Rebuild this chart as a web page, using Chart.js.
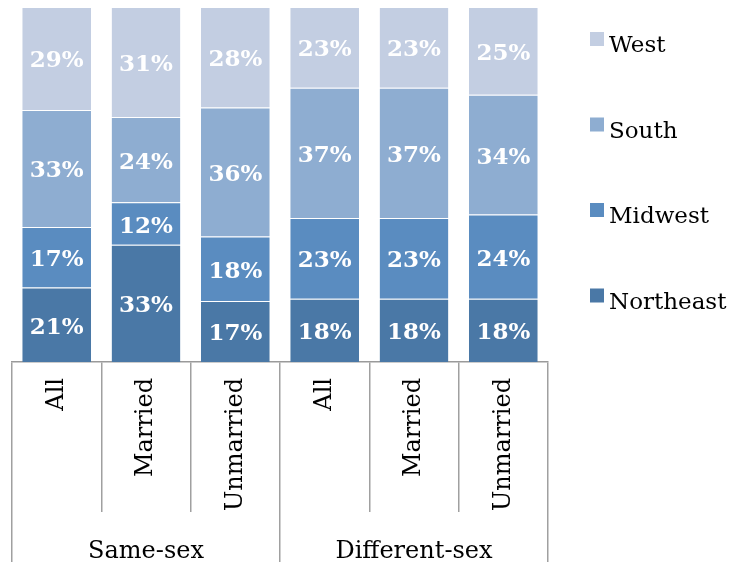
<!DOCTYPE html>
<html>
<head>
<meta charset="utf-8">
<script src="https://cdn.jsdelivr.net/npm/chart.js@4"></script>
<style>
  html, body { margin: 0; padding: 0; background: #fff; }
  #wrap { position: relative; width: 743px; height: 562px; }
</style>
</head>
<body>
<div id="wrap"><canvas id="bar" width="743" height="562"></canvas></div>
<script>
const categories = ["All", "Married", "Unmarried", "All", "Married", "Unmarried"];
const groups = ["Same-sex", "Different-sex"];
const regions = ["Northeast", "Midwest", "South", "West"];

const northeast = [21, 33, 17, 18, 18, 18];
const midwest   = [17, 12, 18, 23, 23, 24];
const south     = [33, 24, 36, 37, 37, 34];
const west      = [29, 31, 28, 23, 23, 25];

const colors = ["#4a78a6", "#5a8cc0", "#8eadd1", "#c3cee2"];

const series = [northeast, midwest, south, west];
// each column is stacked to 100%
const totals = categories.map((c, i) => series.reduce((s, arr) => s + arr[i], 0));

const serif = "'DejaVu Serif', Georgia, serif";

const valueLabels = {
    id: "valueLabels",
    afterDatasetsDraw(chart) {
        const ctx = chart.ctx;
        ctx.save();
        ctx.fillStyle = "#fff";
        ctx.font = "bold 23px " + serif;
        ctx.textAlign = "center";
        ctx.textBaseline = "middle";
        chart.data.datasets.forEach((ds, d) => {
            chart.getDatasetMeta(d).data.forEach((bar, i) => {
                ctx.fillText(series[d][i] + "%", bar.x, (bar.y + bar.base) / 2 + 3);
            });
        });
        ctx.restore();
    }
};

const sideLegend = {
    id: "sideLegend",
    afterDraw(chart) {
        const ctx = chart.ctx;
        ctx.save();
        ctx.font = "23px " + serif;
        ctx.textBaseline = "alphabetic";
        ctx.textAlign = "left";
        const n = chart.data.datasets.length;
        for (let k = 0; k < n; k++) {
            const ds = chart.data.datasets[n - 1 - k];
            const top = 32 + k * 85.5;
            ctx.fillStyle = ds.backgroundColor;
            ctx.fillRect(590, top, 14, 14);
            ctx.fillStyle = "#000";
            ctx.fillText(ds.label, 609, top + 20);
        }
        ctx.restore();
    }
};

let ctx = document.getElementById("bar").getContext("2d");
new Chart(ctx, {
    type: "bar",
    data: {
        labels: categories,
        datasets: regions.map((name, d) => ({
            label: name,
            data: series[d].map((v, i) => v / totals[i] * 100),
            backgroundColor: colors[d],
            borderColor: "rgba(255,255,255,0.3)",
            borderWidth: { top: 1 },
            borderSkipped: "bottom",
            categoryPercentage: 1,
            barPercentage: 0.77,
            xAxisID: "x"
        }))
    },
    options: {
        responsive: false,
        animation: false,
        layout: { padding: { top: 7, left: 12, right: 195, bottom: 0 } },
        plugins: {
            legend: { display: false },
            tooltip: { enabled: false }
        },
        scales: {
            y: {
                stacked: true,
                min: 0,
                max: 100,
                display: false
            },
            x: {
                stacked: true,
                offset: true,
                border: { display: true, color: "#9a9a9a", width: 1.5 },
                grid: {
                    offset: true,
                    drawOnChartArea: false,
                    drawTicks: true,
                    tickLength: 150,
                    lineWidth: 1.5,
                    color: "#a0a0a0"
                },
                ticks: {
                    minRotation: 90,
                    maxRotation: 90,
                    autoSkip: false,
                    padding: -134,
                    color: "#000",
                    font: { family: serif, size: 24 }
                },
                afterFit(scale) { scale.height = 150; }
            },
            x2: {
                type: "category",
                labels: groups,
                position: "bottom",
                offset: true,
                border: { display: false },
                grid: {
                    offset: true,
                    drawOnChartArea: false,
                    drawTicks: true,
                    tickLength: 50,
                    lineWidth: 1.5,
                    color: "#a0a0a0"
                },
                ticks: {
                    padding: -25,
                    color: "#000",
                    maxRotation: 0,
                    font: { family: serif, size: 24 }
                },
                afterFit(scale) { scale.height = 50; }
            }
        }
    },
    plugins: [valueLabels, sideLegend]
});
</script>
</body>
</html>
